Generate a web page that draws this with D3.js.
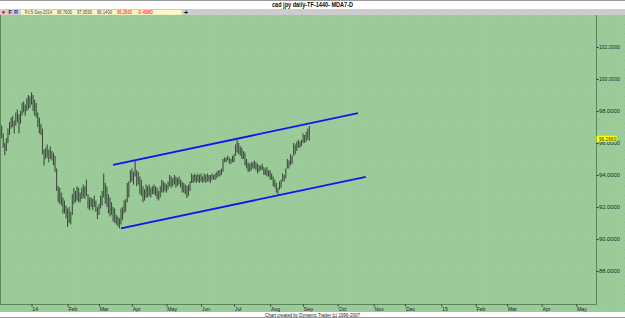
<!DOCTYPE html>
<html>
<head>
<meta charset="utf-8">
<script src="https://cdn.jsdelivr.net/npm/d3@7"></script>
<style>
  body { margin: 0; background: #fff; }
  svg { display: block; font-family: "Liberation Sans", Arial, sans-serif; }
</style>
</head>
<body>
<svg width="625" height="318"></svg>
<script>
// daily bars, one per weekday starting at firstBar
const firstBar = "2013-12-05";
const highs = [
  97.1, 96.6, 96.0, 96.3, 96.9,   97.3, 97.6, 97.7, 97.4, 97.9,
  98.1, 97.8, 98.0, 98.5, 98.6,   98.4, 98.8, 99.0, 98.9, 99.17,
  99.0, 98.7, 98.5, 97.9, 97.6,   97.2, 96.9, 95.6, 95.7, 95.9,
  95.6, 95.8, 95.5, 95.4, 95.2,   94.4, 93.3, 93.2, 92.9, 92.6,
  92.4, 92.1, 91.9, 92.0, 91.7,   92.8, 93.2, 93.0, 93.3, 93.2,
  92.9, 93.2, 93.4, 93.3, 93.7,   92.8, 92.6, 92.6, 92.5, 92.7,
  92.4, 92.0, 92.2, 92.7, 93.0,   94.1, 93.5, 93.3, 92.8, 92.6,
  92.3, 92.0, 91.9, 91.5, 91.4,   91.3, 91.9, 92.0, 92.4, 92.5,
  93.5, 93.6, 94.3, 94.4, 94.2,   94.94, 94.3, 94.2, 93.9, 93.7,
  93.3, 93.1, 93.4, 93.3, 93.4,   93.2, 93.3, 93.4, 93.3, 93.2,
  93.0, 93.3, 93.7, 93.6, 93.5,   93.4, 93.6, 94.0, 93.9, 93.8,
  94.0, 93.9, 93.8, 93.9, 93.7,   93.6, 93.5, 93.4, 93.3, 93.4,
  93.6, 94.1, 94.0, 94.1, 94.0,   94.1, 94.0, 94.1, 93.9, 94.1,
  94.0, 94.1, 94.0, 94.0, 94.1,   94.0, 94.1, 94.2, 94.3, 94.3,
  94.4, 95.0, 95.1, 95.1, 95.2,   95.1, 95.0, 95.2, 95.3, 95.9,
  96.19, 96.0, 95.8, 95.7, 95.5,  95.4, 95.0, 94.8, 94.7, 94.8,
  94.8, 94.9, 94.8, 94.7, 94.6,   94.6, 94.7, 94.5, 94.4, 94.5,
  94.3, 94.3, 94.1, 93.9, 93.7,   93.5, 93.2, 93.6, 93.7, 94.1,
  94.0, 94.4, 95.0, 94.9, 95.3,   95.2, 96.0, 95.9, 96.1, 96.2,
  96.1, 96.2, 96.6, 96.5, 96.7,   96.9, 97.056
];
const lows = [
  96.3, 95.7, 95.25, 95.5, 96.0,  96.5, 96.9, 97.0, 96.6, 97.1,
  97.3, 96.6, 97.2, 97.7, 97.9,   97.7, 98.0, 98.1, 98.2, 98.4,
  98.0, 97.7, 97.6, 97.0, 96.6,   96.5, 95.3, 94.6, 95.0, 95.1,
  94.8, 95.0, 94.9, 94.6, 94.2,   93.0, 92.3, 92.2, 92.1, 91.6,
  91.6, 91.3, 90.77, 91.0, 90.9,  91.5, 92.2, 92.3, 92.4, 92.3,
  92.3, 92.5, 92.6, 92.5, 92.7,   91.9, 91.8, 92.0, 91.8, 92.0,
  91.7, 91.25, 91.5, 91.9, 92.1,  92.6, 92.2, 92.0, 91.6, 91.4,
  91.5, 91.1, 91.0, 90.9, 90.8,   90.67, 90.9, 91.2, 91.6, 91.7,
  92.3, 92.6, 93.5, 93.6, 93.4,   93.9, 93.3, 93.4, 92.8, 92.7,
  92.3, 92.4, 92.6, 92.6, 92.7,   92.6, 92.8, 92.8, 92.7, 92.5,
  92.4, 92.6, 92.9, 92.9, 93.0,   92.9, 93.1, 93.3, 93.2, 93.3,
  93.4, 93.2, 93.3, 93.4, 93.2,   92.9, 92.9, 92.8, 92.56, 92.7,
  93.0, 93.5, 93.5, 93.6, 93.5,   93.6, 93.5, 93.6, 93.5, 93.6,
  93.5, 93.6, 93.6, 93.5, 93.7,   93.7, 93.7, 93.8, 93.9, 93.9,
  94.0, 94.2, 94.8, 94.8, 94.9,   94.7, 94.7, 94.8, 94.8, 95.2,
  95.4, 95.3, 95.2, 95.0, 95.0,   94.6, 94.4, 94.2, 94.2, 94.3,
  94.4, 94.4, 94.3, 94.1, 94.2,   94.3, 94.3, 94.0, 94.0, 93.9,
  93.9, 93.7, 93.7, 93.3, 93.2,   92.9, 92.75, 93.1, 93.2, 93.6,
  93.6, 93.8, 94.4, 94.4, 94.6,   94.7, 95.2, 95.3, 95.5, 95.7,
  95.7, 95.8, 96.0, 96.0, 96.1,   96.2, 96.14
];
const lastBar = ["Fri 5-Sep-2014", "96.7600", "97.0560", "96.1400", "96.2660", "-0.4980"];
const lastClose = 96.266;
const priceTicks = [88, 90, 92, 94, 96, 98, 100, 102];
const channelUpper = [["2014-03-14", 94.63], ["2014-10-20", 97.86]];
const channelLower = [["2014-03-21", 90.67], ["2014-10-27", 93.88]];
const title = "cad jpy daily-TF-1440- MDA7-D";
const footer = "Chart created by Dynamic Trader (c) 1996-2007";

const svg = d3.select("svg");
const W = 625, H = 318;
const plotR = 596.5, plotT = 15, plotB = 304;
const green = "#9ccb9a", dark = "#5b875a";

const parse = d3.timeParse("%Y-%m-%d");
const days = d3.timeDay.range(new Date(2013, 11, 1), new Date(2015, 5, 1))
  .filter(d => d.getDay() !== 0 && d.getDay() !== 6);
const dayIndex = d => days.findIndex(t => +t >= +d);

const i0 = dayIndex(new Date(2014, 0, 1));
const x = d3.scaleLinear().domain([i0, i0 + 347]).range([31.5, 576.2]);
const y = d3.scaleLinear().domain([85.9375, 104]).range([plotB, plotT]);

// backgrounds
const defs = svg.append("defs");
const pat = defs.append("pattern").attr("id", "dots")
  .attr("width", 17).attr("height", 9).attr("patternUnits", "userSpaceOnUse");
pat.append("rect").attr("width", 17).attr("height", 9).attr("fill", green);
pat.append("rect").attr("x", 3).attr("y", 2).attr("width", 1).attr("height", 1).attr("fill", "#90bf8f");
pat.append("rect").attr("x", 12).attr("y", 6).attr("width", 1).attr("height", 1).attr("fill", "#93c292");

svg.append("rect").attr("width", W).attr("height", H).attr("fill", "#fff");
svg.append("rect").attr("x", 0).attr("y", plotT).attr("width", W).attr("height", 297).attr("fill", "url(#dots)");

// title bar and info bar
svg.append("line").attr("x1", 0).attr("x2", W).attr("y1", 0.5).attr("y2", 0.5).attr("stroke", "#9a9a9a");
svg.append("text").attr("x", 272).attr("y", 7).attr("font-size", 6.5).attr("font-weight", "bold")
  .attr("textLength", 81).attr("lengthAdjust", "spacingAndGlyphs").attr("fill", "#111").text(title);

svg.append("rect").attr("x", 0).attr("y", 9).attr("width", W).attr("height", 6).attr("fill", "#cdcdcd");
svg.append("circle").attr("cx", 3.5).attr("cy", 12.3).attr("r", 1.2).attr("fill", "#e00");
svg.append("text").attr("x", 8.5).attr("y", 14.3).attr("font-size", 5.5).attr("font-weight", "bold").attr("fill", "#223").text("F");
svg.append("text").attr("x", 14).attr("y", 14.3).attr("font-size", 5.5).attr("font-weight", "bold").attr("fill", "#13a").text("R");
svg.append("rect").attr("x", 21).attr("y", 10).attr("width", 160.5).attr("height", 4.8).attr("fill", "#fbf8c4");
const infoX = [25, 57, 77, 97, 117, 137];
const infoW = [27, 15, 15, 15, 15, 16];
svg.selectAll("text.info").data(lastBar).enter().append("text")
  .attr("class", "info")
  .attr("x", (d, k) => infoX[k]).attr("y", 14.2)
  .attr("font-size", 4.6)
  .attr("textLength", (d, k) => infoW[k]).attr("lengthAdjust", "spacingAndGlyphs")
  .attr("fill", (d, k) => k >= 4 ? "#f00" : "#444")
  .text(d => d);
svg.append("text").attr("x", 184).attr("y", 14.6).attr("font-size", 7).attr("font-weight", "bold").attr("fill", "#111").text("+");

// footer
svg.append("rect").attr("x", 0).attr("y", 312).attr("width", W).attr("height", 6).attr("fill", "#fff");
svg.append("line").attr("x1", 0).attr("x2", W).attr("y1", 317.5).attr("y2", 317.5).attr("stroke", "#9a9a9a");
svg.append("text").attr("x", 265).attr("y", 316.5).attr("font-size", 4.8)
  .attr("textLength", 95).attr("lengthAdjust", "spacingAndGlyphs").attr("fill", "#222").text(footer);

// frame
svg.append("line").attr("x1", 0.5).attr("x2", 0.5).attr("y1", plotT).attr("y2", plotB).attr("stroke", dark);
svg.append("line").attr("x1", plotR).attr("x2", plotR).attr("y1", plotT).attr("y2", plotB + 0.5).attr("stroke", dark);
svg.append("line").attr("x1", 0).attr("x2", plotR).attr("y1", plotB + 0.5).attr("y2", plotB + 0.5).attr("stroke", dark);

// price axis
const yAxis = svg.append("g").attr("transform", `translate(${plotR},0)`)
  .call(d3.axisRight(y).tickValues(priceTicks).tickSize(2).tickPadding(0.5).tickFormat(d3.format(".4f")));
yAxis.select(".domain").remove();
yAxis.selectAll("line").attr("stroke", "#334");
yAxis.selectAll("text").attr("font-size", 5.5).attr("fill", "#223")
  .attr("textLength", 21).attr("lengthAdjust", "spacingAndGlyphs").attr("font-family", null);

// time axis: first weekday of every month
const months = d3.timeMonth.range(new Date(2014, 0, 1), new Date(2015, 5, 1));
const monthIdx = months.map(dayIndex);
const monthLabel = (d, k) => months[k].getMonth() === 0 ? d3.timeFormat("%y")(months[k]) : d3.timeFormat("%b")(months[k]);
const xAxis = svg.append("g").attr("transform", `translate(0,${plotB + 0.5})`)
  .call(d3.axisBottom(x).tickValues(monthIdx).tickSize(2).tickPadding(0.5).tickFormat(monthLabel));
xAxis.select(".domain").remove();
xAxis.selectAll("line").attr("stroke", "#334");
xAxis.selectAll("text").attr("font-size", 5.2).attr("fill", "#223")
  .attr("text-anchor", "start").attr("x", 0.3).attr("font-family", null);

// price bars
const iFirst = dayIndex(parse(firstBar));
const bars = highs.map((h, k) => ({ i: iFirst + k, h: h, l: lows[k] }));
svg.append("g").selectAll("line").data(bars).enter().append("line")
  .attr("x1", d => x(d.i)).attr("x2", d => x(d.i))
  .attr("y1", d => y(d.h)).attr("y2", d => y(d.l))
  .attr("stroke", "#3c4d3c").attr("stroke-width", 1.1);

// channel
const chLine = d3.line().x(d => x(dayIndex(parse(d[0])))).y(d => y(d[1]));
svg.selectAll("path.channel").data([channelUpper, channelLower]).enter().append("path")
  .attr("class", "channel").attr("d", chLine)
  .attr("fill", "none").attr("stroke", "#1414f0").attr("stroke-width", 1.8);

// last price marker
svg.append("rect").attr("x", plotR).attr("y", y(lastClose) - 3).attr("width", 20).attr("height", 6).attr("fill", "#ffff00");
svg.append("text").attr("x", plotR + 2.5).attr("y", y(lastClose)).attr("dy", "0.35em")
  .attr("font-size", 5.5).attr("textLength", 17).attr("lengthAdjust", "spacingAndGlyphs")
  .attr("fill", "#333").text(d3.format(".4f")(lastClose));
</script>
</body>
</html>
